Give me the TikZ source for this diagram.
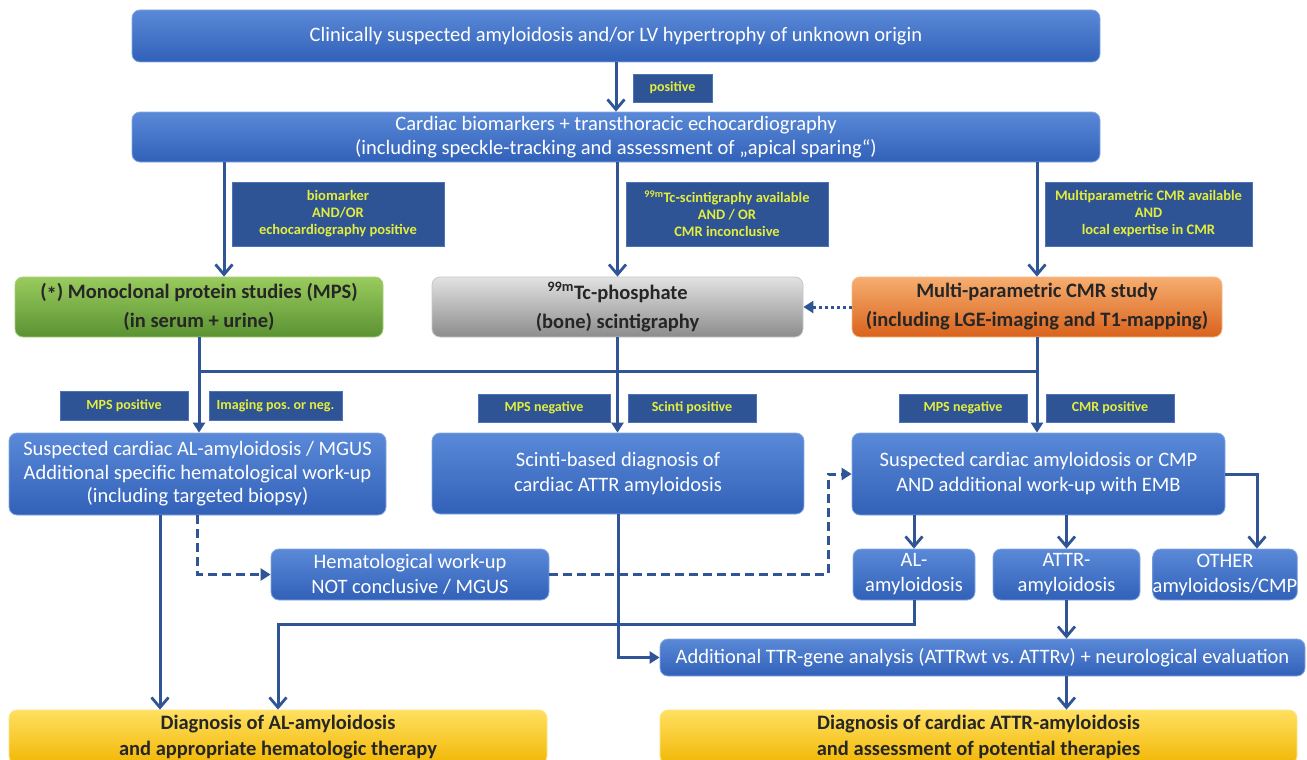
\documentclass[tikz,border=0pt]{standalone}
\usepackage{fontspec}
\setmainfont{Carlito}
\usetikzlibrary{arrows.meta}
\frenchspacing
\definecolor{lineblue}{HTML}{2F5597}
\definecolor{blueT}{HTML}{5A89D8}
\definecolor{blueB}{HTML}{3161B8}
\definecolor{blueEdge}{HTML}{86A8E2}
\definecolor{labfill}{HTML}{2F5496}
\definecolor{labedge}{HTML}{4C72B8}
\definecolor{labtext}{HTML}{E3EE3C}
\definecolor{greenT}{HTML}{9ACB5E}
\definecolor{greenB}{HTML}{5A9232}
\definecolor{greenEdge}{HTML}{A6D077}
\definecolor{grayT}{HTML}{E2E2E2}
\definecolor{grayB}{HTML}{8C8C8C}
\definecolor{grayEdge}{HTML}{C8C8C8}
\definecolor{orangeT}{HTML}{F6AE70}
\definecolor{orangeB}{HTML}{D9621C}
\definecolor{orangeEdge}{HTML}{F5B98A}
\definecolor{yellowT}{HTML}{FFE060}
\definecolor{yellowB}{HTML}{F2B705}
\definecolor{yellowEdge}{HTML}{FFE58A}
\definecolor{darktext}{HTML}{262626}
\tikzset{
  bluebox/.style={rounded corners=8pt, draw=blueEdge, line width=0.8pt,
    top color=blueT, bottom color=blueB, text=white, align=center, inner sep=0pt,
    font=\fontsize{20.5}{23.5}\selectfont},
  bb/.style={font=\fontsize{20.5}{25}\selectfont},
  greenbox/.style={bluebox, draw=greenEdge, top color=greenT, bottom color=greenB,
    text=darktext, font=\bfseries\fontsize{20.5}{29}\selectfont},
  graybox/.style={bluebox, draw=grayEdge, top color=grayT, bottom color=grayB,
    text=darktext, font=\bfseries\fontsize{20.5}{29}\selectfont},
  orangebox/.style={bluebox, draw=orangeEdge, top color=orangeT, bottom color=orangeB,
    text=darktext, font=\bfseries\fontsize{20.5}{29}\selectfont},
  yellowbox/.style={bluebox, draw=yellowEdge, top color=yellowT, bottom color=yellowB,
    text=darktext, font=\bfseries\fontsize{20.5}{26}\selectfont},
  lab/.style={draw=labedge, line width=0.8pt, fill=labfill, text=labtext, align=center,
    inner sep=0pt, font=\bfseries\fontsize{14.5}{17}\selectfont},
  slab/.style={lab, font=\bfseries\fontsize{14}{17}\selectfont},
  conn/.style={draw=lineblue, line width=3pt},
  vee/.style={-{Straight Barb[length=10pt,width=17pt,line width=2.8pt]}},
  tri/.style={-{Triangle[length=10pt,width=12pt]}},
}
\begin{document}
\begin{tikzpicture}[x=1pt,y=-1pt]
\useasboundingbox (0,0) rectangle (1307,760);
\fill[white] (0,0) rectangle (1307,760);

% main boxes
\node[bluebox, minimum width=968pt, minimum height=52pt] (top) at (616,36)
  {Clinically suspected amyloidosis and/or LV hypertrophy of unknown origin};
\node[slab, minimum width=79pt, minimum height=28pt] (lpos) at (672.5,88) {positive};
\node[bluebox, minimum width=968pt, minimum height=50pt] (echo) at (616,137)
  {Cardiac biomarkers + transthoracic echocardiography\\(including speckle-tracking and assessment of „apical sparing“)};

\node[lab, minimum width=212pt, minimum height=64pt] (lab1) at (338,214)
  {biomarker\\AND/OR\\echocardiography positive};
\node[lab, minimum width=202pt, minimum height=64pt] (lab2) at (727,214)
  {\textsuperscript{99m}Tc-scintigraphy available\\AND / OR\\CMR inconclusive};
\node[lab, minimum width=207pt, minimum height=64pt] (lab3) at (1148.5,214)
  {Multiparametric CMR available\\AND\\local expertise in CMR};

\node[greenbox, minimum width=368pt, minimum height=60pt] (mps) at (199,307)
  {(\raisebox{-0.3ex}{*}) Monoclonal protein studies (MPS)\\(in serum + urine)};
\node[graybox, minimum width=371pt, minimum height=60pt] (scinti) at (617.5,307)
  {\textsuperscript{99m}Tc-phosphate\\(bone) scintigraphy};
\node[orangebox, minimum width=370pt, minimum height=60pt] (cmr) at (1037,307)
  {Multi-parametric CMR study\\(including LGE-imaging and T1-mapping)};

\node[slab, minimum width=128pt, minimum height=29pt] (lmpsp) at (124,405.5) {MPS positive};
\node[slab, minimum width=133pt, minimum height=29pt] (limg) at (275.5,405.5) {Imaging pos. or neg.};
\node[slab, minimum width=132pt, minimum height=28pt] (lmpsn1) at (544,408) {MPS negative};
\node[slab, minimum width=128pt, minimum height=28pt] (lscp) at (692,408) {Scinti positive};
\node[slab, minimum width=128pt, minimum height=28pt] (lmpsn2) at (963,408) {MPS negative};
\node[slab, minimum width=128pt, minimum height=28pt] (lcmrp) at (1110,408) {CMR positive};

\node[bluebox, minimum width=377pt, minimum height=82pt] (susAL) at (197.5,474)
  {Suspected cardiac AL-amyloidosis / MGUS\\Additional specific hematological work-up\\(including targeted biopsy)};
\node[bluebox, bb, minimum width=372pt, minimum height=81pt] (sciDx) at (618,473.5)
  {Scinti-based diagnosis of\\cardiac ATTR amyloidosis};
\node[bluebox, bb, minimum width=373pt, minimum height=82pt] (susR) at (1038.5,474)
  {Suspected cardiac amyloidosis or CMP\\AND additional work-up with EMB};

\node[bluebox, bb, minimum width=278pt, minimum height=51pt] (hema) at (410,574.5)
  {Hematological work-up\\NOT conclusive / MGUS};
\node[bluebox, bb, minimum width=122pt, minimum height=51pt] (AL) at (914,574.5)
  {AL-\\amyloidosis};
\node[bluebox, bb, minimum width=147pt, minimum height=51pt] (ATTR) at (1066.5,574.5)
  {ATTR-\\amyloidosis};
\node[bluebox, bb, minimum width=144pt, minimum height=51pt] (OTHER) at (1225,574.5)
  {OTHER\\amyloidosis/CMP};

\node[bluebox, minimum width=645pt, minimum height=37pt] (TTR) at (982.5,657.5)
  {Additional TTR-gene analysis (ATTRwt vs. ATTRv) + neurological evaluation};

\node[yellowbox, minimum width=538pt, minimum height=54pt] (yelL) at (278,737)
  {Diagnosis of AL-amyloidosis\\and appropriate hematologic therapy};
\node[yellowbox, minimum width=637pt, minimum height=54pt] (yelR) at (978.5,737)
  {Diagnosis of cardiac ATTR-amyloidosis\\and assessment of potential therapies};

% helper coordinates
\coordinate (m1) at ([xshift=25pt]mps.north);
\coordinate (hl) at (0,371);
\coordinate (a1) at ([xshift=-37.5pt]susAL.south);
\coordinate (d1) at (828,0);
\coordinate (d2) at (1257,0);
\coordinate (d3) at (0,624);
\coordinate (d4) at (278,0);

% connectors
\draw[conn,vee] (top.south) -- (echo.north);
\draw[conn,vee] (echo.south -| m1) -- (m1);
\draw[conn,vee] (echo.south -| scinti.north) -- (scinti.north);
\draw[conn,vee] (echo.south -| cmr.north) -- (cmr.north);
\draw[conn,tri,dash pattern=on 3pt off 3pt] (cmr.west) -- (scinti.east);

\draw[conn] (mps.south |- hl) -- (cmr.south |- hl);
\draw[conn,tri] (mps.south) -- (mps.south |- susAL.north);
\draw[conn,tri] (scinti.south) -- (scinti.south |- sciDx.north);
\draw[conn,tri] (cmr.south) -- (cmr.south |- susR.north);

\draw[conn,vee] (a1) -- (a1 |- yelL.north);
\draw[conn,tri,dash pattern=on 9pt off 5pt] (susAL.south) -- (susAL.south |- hema.west) -- (hema.west);
\draw[conn,tri,dash pattern=on 9pt off 5pt] (hema.east) -- (hema.east -| d1) -- (d1 |- susR.west) -- (susR.west);
\draw[conn,tri] (sciDx.south) -- (sciDx.south |- TTR.west) -- (TTR.west);

\draw[conn,vee] (susR.south -| AL.north) -- (AL.north);
\draw[conn,vee] (susR.south -| ATTR.north) -- (ATTR.north);
\draw[conn,vee] (susR.east) -- (susR.east -| d2) -- (d2 |- OTHER.north);
\draw[conn,vee] (AL.south) -- (AL.south |- d3) -- (d4 |- d3) -- (d4 |- yelL.north);
\draw[conn,vee] (ATTR.south) -- (ATTR.south |- TTR.north);
\draw[conn,vee] (ATTR.south |- TTR.south) -- (ATTR.south |- yelR.north);
\end{tikzpicture}
\end{document}
